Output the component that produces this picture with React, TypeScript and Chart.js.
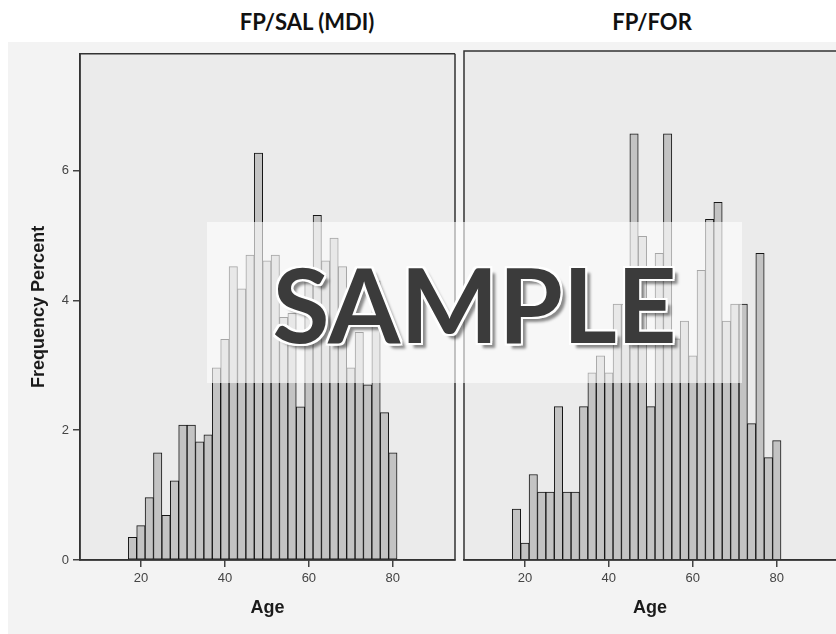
import React, { useEffect, useRef } from "react";
import { Chart, registerables } from "chart.js";

Chart.register(...registerables);

// ---- data ----
const AGE_BIN_CENTERS = [18, 20, 22, 24, 26, 28, 30, 32, 34, 36, 38, 40, 42, 44, 46, 48, 50, 52, 54, 56, 58, 60, 62, 64, 66, 68, 70, 72, 74, 76, 78, 80];
const FP_SAL_PERCENT = [0.35, 0.53, 0.96, 1.65, 0.69, 1.22, 2.08, 2.08, 1.82, 1.93, 2.96, 3.4, 4.52, 4.18, 4.7, 6.27, 4.61, 4.7, 3.74, 3.8, 2.36, 4.4, 5.31, 4.61, 4.96, 4.52, 2.96, 3.51, 2.7, 4.3, 2.27, 1.65];
const FP_FOR_PERCENT = [0.78, 0.26, 1.31, 1.04, 1.04, 2.35, 1.04, 1.04, 2.35, 2.87, 3.13, 2.87, 3.92, 3.92, 6.53, 4.96, 2.35, 4.7, 6.53, 3.39, 3.66, 3.13, 4.44, 5.22, 5.48, 3.66, 3.92, 3.92, 2.09, 4.7, 1.57, 1.83];
const X_TICKS = [20, 40, 60, 80];
const Y_TICKS = [0, 2, 4, 6];
const PANEL_TITLES = ["FP/SAL (MDI)", "FP/FOR"];
const X_LABEL = "Age";
const Y_LABEL = "Frequency Percent";
const WATERMARK = "SAMPLE";

Chart.defaults.font.family = "'Liberation Sans', Arial, sans-serif";

const frame = {
  id: "panelFrame",
  beforeDraw(chart: any, _a: any, opts: any) {
    const { ctx, chartArea: a } = chart;
    ctx.save();
    ctx.fillStyle = opts.fill;
    ctx.fillRect(a.left, a.top, a.right - a.left, a.bottom - a.top);
    ctx.restore();
  },
  afterDraw(chart: any, _a: any, opts: any) {
    const { ctx, chartArea: a } = chart;
    ctx.save();
    ctx.strokeStyle = opts.stroke;
    ctx.lineWidth = 1.5;
    ctx.beginPath();
    ctx.moveTo(a.right, a.top);
    ctx.lineTo(a.left, a.top);
    ctx.lineTo(a.left, a.bottom);
    ctx.lineTo(a.right, a.bottom);
    if (opts.closeRight) ctx.lineTo(a.right, a.top);
    ctx.stroke();
    ctx.restore();
  },
};

function Panel(props: { values: number[]; width: number; xMax: number; showY: boolean; padLeft: number; padRight: number; closeRight: boolean }) {
  const ref = useRef<HTMLCanvasElement | null>(null);
  useEffect(() => {
    if (!ref.current) return;
    const chart = new Chart(ref.current, {
      type: "bar",
      data: {
        datasets: [
          {
            data: AGE_BIN_CENTERS.map((x, i) => ({ x, y: props.values[i] })),
            backgroundColor: "#c3c3c3",
            borderColor: "#161616",
            borderWidth: 1,
            borderSkipped: false,
            barPercentage: 1,
            categoryPercentage: 1,
          },
        ],
      },
      options: {
        responsive: false,
        animation: false,
        layout: { padding: { top: 9, left: props.padLeft, right: props.padRight, bottom: 0 } },
        plugins: {
          legend: { display: false },
          tooltip: { enabled: false },
          panelFrame: { fill: "#ebebeb", stroke: "#333", closeRight: props.closeRight },
        } as any,
        scales: {
          x: {
            type: "linear",
            offset: false,
            min: 5.5,
            max: props.xMax,
            afterBuildTicks: (s: any) => {
              s.ticks = X_TICKS.map((v) => ({ value: v }));
            },
            afterFit: (s: any) => {
              s.height = 74;
            },
            ticks: { color: "#444", font: { size: 13 }, padding: 4 },
            grid: { offset: false, drawOnChartArea: false, drawTicks: true, tickLength: 7, color: "#444", lineWidth: 1.5 },
            border: { display: true, color: "#333", width: 1.5 },
            title: { display: true, text: X_LABEL, color: "#1a1a1a", font: { size: 18, weight: "bold" }, padding: { top: 0, bottom: 15 } },
          },
          y: {
            display: props.showY,
            min: 0,
            max: 7.8,
            afterBuildTicks: (s: any) => {
              s.ticks = Y_TICKS.map((v) => ({ value: v }));
            },
            afterFit: (s: any) => {
              if (props.showY) s.width = 80;
            },
            ticks: { color: "#444", font: { size: 13 }, padding: 4 },
            grid: { drawOnChartArea: false, drawTicks: true, tickLength: 7, color: "#444", lineWidth: 1.5 },
            border: { display: true, color: "#333", width: 1.5 },
            title: { display: true, text: Y_LABEL, color: "#1a1a1a", font: { size: 18, weight: "bold" }, padding: { top: 28, bottom: 0 } },
          },
        },
      },
      plugins: [frame],
    } as any);
    return () => chart.destroy();
  }, []);
  return <canvas ref={ref} width={props.width} height={592} style={{ width: props.width, height: 592, display: "block" }} />;
}

export default function App() {
  return (
    <div style={{ position: "fixed", left: 0, top: 0, width: 836, height: 634, background: "#fff", overflow: "hidden" }}>
      <div style={{ position: "absolute", left: 8, top: 42, right: 0, bottom: 0, background: "#f3f3f3" }} />
      <div style={{ position: "absolute", left: 0, top: 42 }}>
        <Panel values={FP_SAL_PERCENT} width={460} xMax={94.8} showY={true} padLeft={0} padRight={5} closeRight={true} />
      </div>
      <div style={{ position: "absolute", left: 460, top: 42 }}>
        <Panel values={FP_FOR_PERCENT} width={376} xMax={94.1} showY={false} padLeft={4} padRight={0} closeRight={false} />
      </div>
      {PANEL_TITLES.map((t, i) => (
        <div
          key={t}
          style={{
            position: "absolute",
            left: i === 0 ? 207 : 552,
            width: 200,
            top: 7,
            textAlign: "center",
            fontFamily: "Lato, 'Open Sans', sans-serif",
            fontWeight: 700,
            fontSize: 22,
            lineHeight: "30px",
            color: "#111",
          }}
        >
          {t}
        </div>
      ))}
      <div
        style={{
          position: "absolute",
          left: 207,
          top: 222,
          width: 535,
          height: 161,
          background: "rgba(255,255,255,0.62)",
          display: "flex",
          alignItems: "center",
          justifyContent: "center",
          pointerEvents: "none",
        }}
      >
        <span
          style={{
            fontFamily: "Lato, 'Open Sans', sans-serif",
            fontWeight: 700,
            fontSize: 104,
            lineHeight: 1,
            color: "#3b3b3b",
            textShadow:
              "-2px -2px 0 #fff, 2px -2px 0 #fff, -2px 2px 0 #fff, 2px 2px 0 #fff, 0 -2px 0 #fff, 0 2px 0 #fff, -2px 0 0 #fff, 2px 0 0 #fff, 5px 5px 3px rgba(0,0,0,0.45)",
          }}
        >
          {WATERMARK}
        </span>
      </div>
    </div>
  );
}
